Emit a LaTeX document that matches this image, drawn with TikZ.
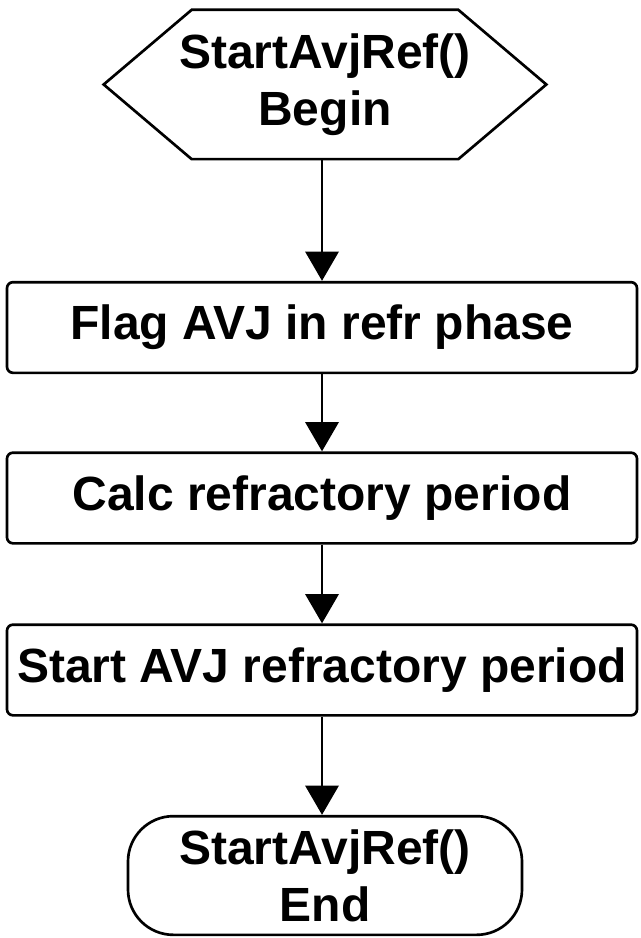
\documentclass[tikz,border=0pt]{standalone}
\usepackage{fontspec}
\setmainfont{Liberation Sans}
\usetikzlibrary{arrows.meta}
\tikzset{every picture/.style={line width=2pt}}

\begin{document}
\begin{tikzpicture}[x=0.75pt,y=0.75pt,yscale=-1,xscale=1,
    font=\fontsize{36}{43}\selectfont\bfseries,
    procbox/.style={draw, rounded corners=4.5pt, minimum width=472.5pt, minimum height=68pt, inner sep=0pt},
    flow/.style={-{Triangle[width=25pt,length=22pt]}}]
    \useasboundingbox (0,0) rectangle (640,938);
    
    % Begin hexagon
    \node [minimum width=330pt, minimum height=110pt, inner sep=0pt, align=center] (begin) at (325,84.5) {StartAvjRef()\\Begin};
    \draw (begin.west) -- ([xshift=66pt]begin.north west) -- ([xshift=-66pt]begin.north east) -- (begin.east) -- ([xshift=-66pt]begin.south east) -- ([xshift=66pt]begin.south west) -- cycle;
    
    % Process boxes
    \node [procbox] (flag) at (322,327.5) {Flag AVJ in refr phase};
    \node [procbox] (calc) at (322,498) {Calc refractory period};
    \node [procbox] (startref) at (322,670) {Start AVJ refractory period};
    
    % End terminator
    \node [draw, rounded corners=34pt, minimum width=295.5pt, minimum height=89pt, inner sep=0pt, align=center] (end) at (325,875.5) {StartAvjRef()\\End};
    
    % Flow arrows
    \draw [flow] (begin.south -| flag.north) -- (flag.north);
    \draw [flow] (flag) -- (calc);
    \draw [flow] (calc) -- (startref);
    \draw [flow] (startref.south) -- (startref.south |- end.north);
    
\end{tikzpicture}
\end{document}
